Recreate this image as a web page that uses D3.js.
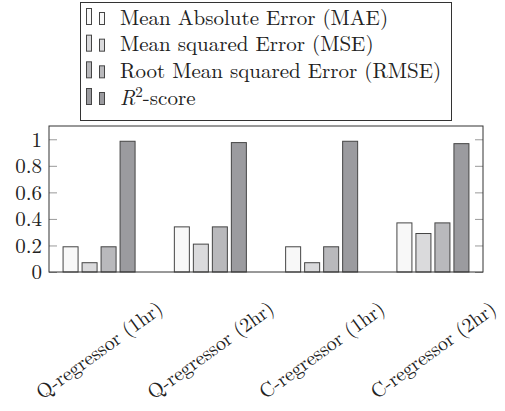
<!DOCTYPE html>
<html>
<head>
<meta charset="utf-8">
<script src="https://cdn.jsdelivr.net/npm/d3@7"></script>
<style>
	html, body { margin: 0; padding: 0; background: #fff; }
	svg { display: block; }
</style>
</head>
<body>
<div id="chart"></div>
<script>
//categories and series
const categories = ['Q-regressor (1hr)', 'Q-regressor (2hr)', 'C-regressor (1hr)', 'C-regressor (2hr)'];
const seriesNames = ['MAE', 'MSE', 'RMSE', 'R2'];
const maeValues = [0.19, 0.34, 0.19, 0.37];
const mseValues = [0.07, 0.21, 0.07, 0.29];
const rmseValues = [0.19, 0.34, 0.19, 0.37];
const r2Values = [0.985, 0.975, 0.985, 0.967];
const yTicks = [0, 0.2, 0.4, 0.6, 0.8, 1];
const yTickLabels = ['0', '0.2', '0.4', '0.6', '0.8', '1'];

//fill per series
const COLOR_PALETTE = {
	MAE: '#f8f8f8',
	MSE: '#dadadc',
	RMSE: '#b9b9bc',
	R2: '#9b9b9f',
	stroke: '#454545',
	frame: '#333',
	tick: '#9a9a9a'
};

//size of the chart
const CHART_CANVAS = { w: 505, h: 411 };
const PLOT = { left: 49, right: 483, top: 126, bottom: 272 };
const FONT = "'Latin Modern Roman', 'Liberation Serif', serif";

const seriesValues = { MAE: maeValues, MSE: mseValues, RMSE: rmseValues, R2: r2Values };

const rows = [];
categories.forEach((c, i) => {
	seriesNames.forEach(s => rows.push({ cat: c, series: s, val: seriesValues[s][i] }));
});

const svg = d3.select('#chart')
	.append('svg')
	.attr('width', CHART_CANVAS.w)
	.attr('height', CHART_CANVAS.h);

const x = d3.scalePoint()
	.domain(categories)
	.range([PLOT.left, PLOT.right])
	.padding(0.45);

const xInner = d3.scaleBand()
	.domain(seriesNames)
	.range([-38, 38])
	.paddingInner(4 / 19)
	.paddingOuter(0.105);

const y = d3.scaleLinear()
	.domain([0, 1.1])
	.range([PLOT.bottom, PLOT.top]);

// bars
svg.append('g')
	.attr('class', 'bars')
	.selectAll('rect')
	.data(rows)
	.join('rect')
	.attr('x', d => x(d.cat) + xInner(d.series))
	.attr('width', xInner.bandwidth())
	.attr('y', d => y(d.val))
	.attr('height', d => y(0) - y(d.val))
	.attr('fill', d => COLOR_PALETTE[d.series])
	.attr('stroke', COLOR_PALETTE.stroke)
	.attr('stroke-width', 1);

// y axis, ticks inside on both sides
const axisLeft = d3.axisLeft(y)
	.tickValues(yTicks)
	.tickSize(-8)
	.tickPadding(7)
	.tickFormat((d, i) => yTickLabels[i]);

svg.append('g')
	.attr('class', 'axis')
	.attr('transform', `translate(${PLOT.left},0)`)
	.call(axisLeft)
	.call(g => g.select('.domain').remove())
	.call(g => g.selectAll('.tick line').attr('stroke', COLOR_PALETTE.tick))
	.call(g => g.selectAll('.tick text')
		.style('font-family', FONT)
		.style('font-size', '21px')
		.attr('fill', '#222'));

svg.append('g')
	.attr('class', 'axis-right')
	.attr('transform', `translate(${PLOT.right},0)`)
	.call(d3.axisRight(y).tickValues(yTicks).tickSize(-8).tickFormat(''))
	.call(g => g.select('.domain').remove())
	.call(g => g.selectAll('.tick line').attr('stroke', COLOR_PALETTE.tick));

// frame
svg.append('rect')
	.attr('x', PLOT.left)
	.attr('y', PLOT.top)
	.attr('width', PLOT.right - PLOT.left)
	.attr('height', PLOT.bottom - PLOT.top)
	.attr('fill', 'none')
	.attr('stroke', COLOR_PALETTE.frame)
	.attr('stroke-width', 1);

// x labels, rotated
svg.append('g')
	.attr('class', 'xlabels')
	.selectAll('text')
	.data(categories)
	.join('text')
	.attr('transform', d => `translate(${x(d)},350) rotate(-36)`)
	.attr('text-anchor', 'middle')
	.attr('dy', '0.35em')
	.style('font-family', FONT)
	.style('font-size', '20px')
	.attr('fill', '#222')
	.text(d => d);

// legend
const legend = svg.append('g').attr('class', 'legend');
legend.append('rect')
	.attr('x', 80.5)
	.attr('y', 2.5)
	.attr('width', 371)
	.attr('height', 118)
	.attr('fill', '#fff')
	.attr('stroke', COLOR_PALETTE.frame)
	.attr('stroke-width', 1);

const legendLabels = ['Mean Absolute Error (MAE)', 'Mean squared Error (MSE)', 'Root Mean squared Error (RMSE)', null];
const legendRow = d3.scalePoint().domain(seriesNames).range([19, 99]);

const item = legend.selectAll('g.item')
	.data(seriesNames)
	.join('g')
	.attr('class', 'item')
	.attr('transform', d => `translate(0,${legendRow(d)})`);

item.append('rect')
	.attr('x', 86.5).attr('y', -10.5)
	.attr('width', 5).attr('height', 16)
	.attr('fill', d => COLOR_PALETTE[d])
	.attr('stroke', COLOR_PALETTE.stroke);
item.append('rect')
	.attr('x', 99.5).attr('y', -6.5)
	.attr('width', 5).attr('height', 12)
	.attr('fill', d => COLOR_PALETTE[d])
	.attr('stroke', COLOR_PALETTE.stroke);

item.append('text')
	.attr('x', 120)
	.attr('y', 5.5)
	.style('font-family', FONT)
	.style('font-size', '21px')
	.attr('fill', '#222')
	.each(function(d, i) {
		const t = d3.select(this);
		if (legendLabels[i]) { t.text(legendLabels[i]); return; }
		t.append('tspan').style('font-style', 'italic').text('R');
		t.append('tspan').style('font-size', '15px').attr('dy', -8).text('2');
		t.append('tspan').attr('dy', 8).text('-score');
	});
</script>
</body>
</html>
